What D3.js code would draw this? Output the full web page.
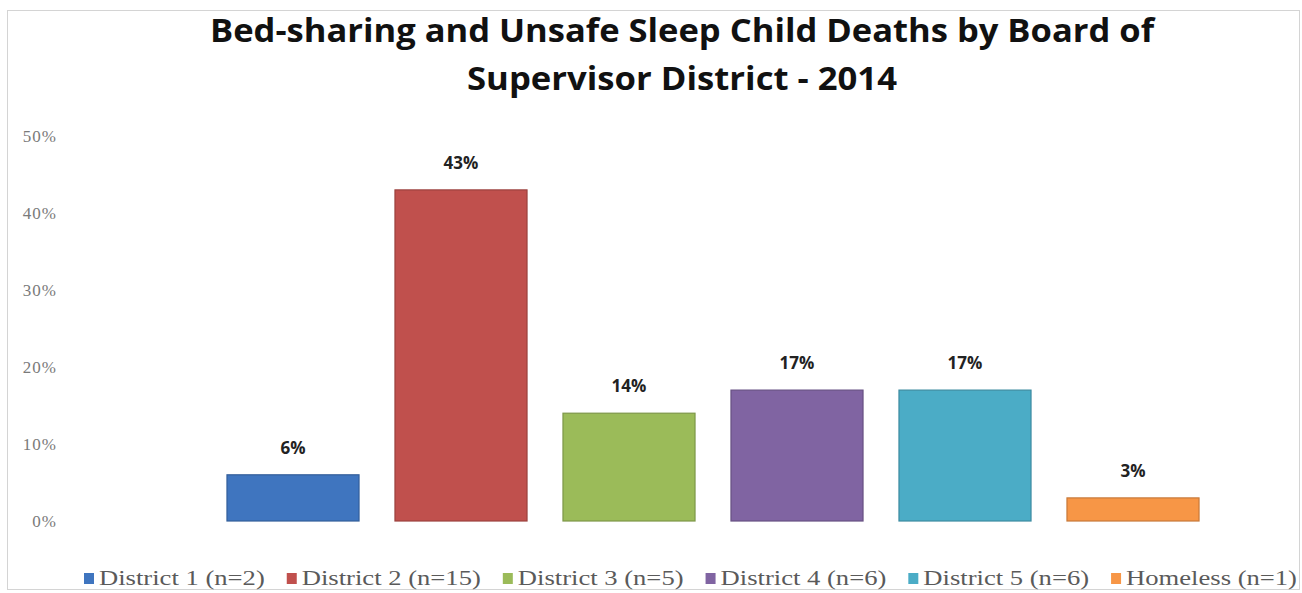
<!DOCTYPE html>
<html>
<head>
<meta charset="utf-8">
<script src="https://cdn.jsdelivr.net/npm/d3@7"></script>
<style>
  html, body { margin: 0; padding: 0; background: #fff; }
  svg { display: block; }
</style>
</head>
<body>
<svg id="chart" width="1302" height="593"></svg>
<script>
// Share of bed-sharing / unsafe sleep child deaths per supervisor district, 2014
const categories = ["District 1", "District 2", "District 3", "District 4", "District 5", "Homeless"];
const counts = [2, 15, 5, 6, 6, 1];
const percents = [6, 43, 14, 17, 17, 3];
const legendLabels = ["District 1 (n=2)", "District 2 (n=15)", "District 3 (n=5)", "District 4 (n=6)", "District 5 (n=6)", "Homeless (n=1)"];
const yTicks = [0, 10, 20, 30, 40, 50];
const colors = ["#3f75bf", "#c0504d", "#9bbb59", "#8064a2", "#4bacc6", "#f79646"];
const titleLines = ["Bed-sharing and Unsafe Sleep Child Deaths by Board of", "Supervisor District - 2014"];

const svg = d3.select("#chart");
const W = 1302, H = 593;

// outer frame
svg.append("rect")
  .attr("x", 7.5).attr("y", 10.5)
  .attr("width", W - 10).attr("height", H - 14)
  .attr("fill", "#fff").attr("stroke", "#d4d4d4").attr("stroke-width", 1);

// title
const title = svg.append("g");
const titleY = [42, 90];
const titleWidths = [944, 430];
titleLines.forEach((t, i) => {
  title.append("text")
    .attr("x", 682).attr("y", titleY[i])
    .attr("text-anchor", "middle")
    .attr("font-family", "'Open Sans', Lato, sans-serif")
    .attr("font-weight", "bold")
    .attr("font-size", 32)
    .attr("fill", "#111")
    .attr("textLength", titleWidths[i])
    .attr("lengthAdjust", "spacingAndGlyphs")
    .text(t);
});

// scales
const x = d3.scaleBand()
  .domain(categories)
  .range([209, 1217])
  .paddingInner(0.214)
  .paddingOuter(0.107);

const y = d3.scaleLinear()
  .domain([0, 50])
  .range([521, 136]);

// y axis (labels only)
const yAxis = d3.axisLeft(y)
  .tickValues(yTicks)
  .tickFormat(d => d + "%")
  .tickSize(0)
  .tickPadding(0);

const yg = svg.append("g")
  .attr("transform", "translate(57,0)")
  .call(yAxis);
yg.select(".domain").remove();
yg.selectAll("text")
  .attr("font-family", "'Liberation Serif', 'DejaVu Serif', serif")
  .attr("font-size", 17)
  .attr("fill", "#7a7a7a")
  .attr("letter-spacing", 1);

// bars
const data = categories.map((c, i) => ({ cat: c, value: percents[i], color: colors[i] }));

svg.append("g").selectAll("rect")
  .data(data)
  .join("rect")
  .attr("x", d => x(d.cat))
  .attr("y", d => y(d.value))
  .attr("width", x.bandwidth())
  .attr("height", d => y(0) - y(d.value))
  .attr("fill", d => d.color)
  .attr("stroke", d => d3.color(d.color).darker(0.6))
  .attr("stroke-width", 1.2);

// value labels
svg.append("g").selectAll("text")
  .data(data)
  .join("text")
  .attr("x", d => x(d.cat) + x.bandwidth() / 2)
  .attr("y", d => y(d.value) - 21)
  .attr("text-anchor", "middle")
  .attr("font-family", "'Open Sans', Lato, sans-serif")
  .attr("font-weight", "bold")
  .attr("font-size", 17)
  .attr("fill", "#222")
  .text(d => d.value + "%");

// legend
const legend = svg.append("g");
const legendStart = 84, legendEnd = 1297, legendBase = 585;
const markerW = 10, markerGap = 5, itemGap = 22;
const measure = legend.append("text")
  .attr("font-family", "'Liberation Serif', 'DejaVu Serif', serif")
  .attr("font-size", 20);
const natural = legendLabels.map(t => { measure.text(t); return measure.node().getComputedTextLength(); });
measure.remove();
const fixed = legendLabels.length * (markerW + markerGap) + (legendLabels.length - 1) * itemGap;
const scaleK = (legendEnd - legendStart - fixed) / d3.sum(natural);

let cx = legendStart;
legendLabels.forEach((t, i) => {
  const w = natural[i] * scaleK;
  legend.append("rect")
    .attr("x", cx).attr("y", legendBase - 12)
    .attr("width", markerW).attr("height", 11)
    .attr("fill", colors[i]);
  legend.append("text")
    .attr("x", cx + markerW + markerGap).attr("y", legendBase)
    .attr("font-family", "'Liberation Serif', 'DejaVu Serif', serif")
    .attr("font-size", 20)
    .attr("fill", "#5a5a5a")
    .attr("textLength", w)
    .attr("lengthAdjust", "spacingAndGlyphs")
    .text(t);
  cx += markerW + markerGap + w + itemGap;
});
</script>
</body>
</html>
